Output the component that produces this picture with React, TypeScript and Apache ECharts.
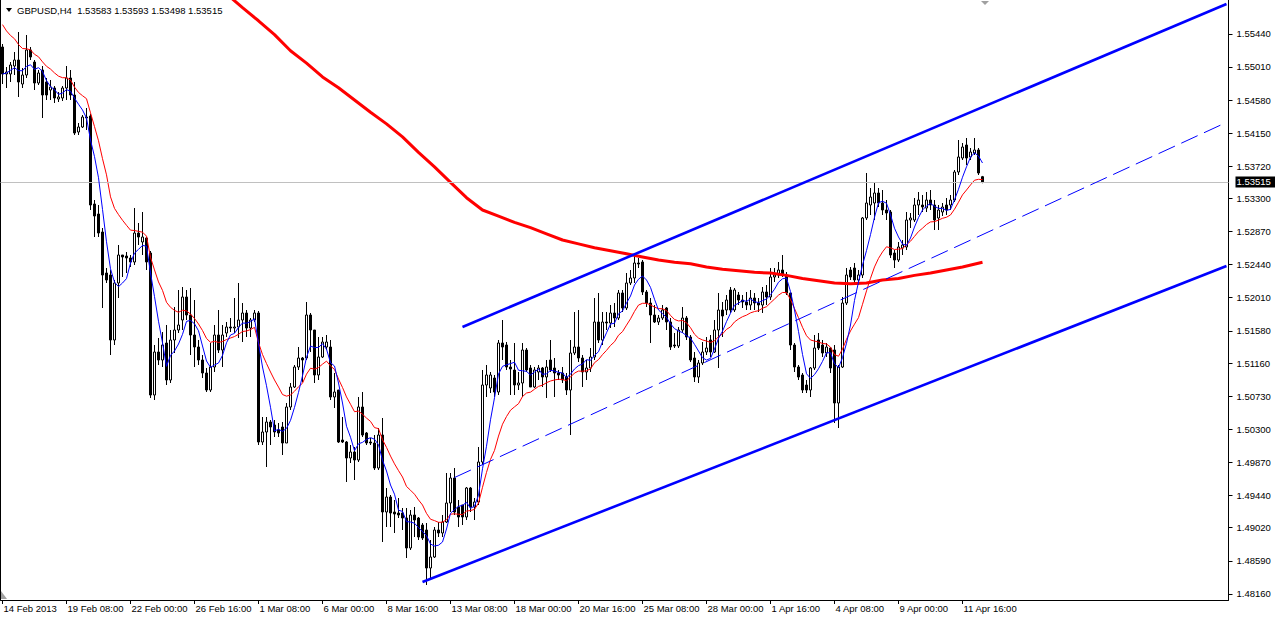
import React, { useEffect, useRef } from 'react';
import * as echarts from 'echarts';

const FONT = '"Liberation Sans", Arial, sans-serif';

const symbolName = 'GBPUSD';
const timeframe = 'H4';

// time-axis labels, one every 16 bars (from bar 0)
const timeLabels = [
  '14 Feb 2013', '19 Feb 08:00', '22 Feb 00:00', '26 Feb 16:00', '1 Mar 08:00', '6 Mar 00:00',
  '8 Mar 16:00', '13 Mar 08:00', '18 Mar 00:00', '20 Mar 16:00', '25 Mar 08:00', '28 Mar 00:00',
  '1 Apr 16:00', '4 Apr 08:00', '9 Apr 00:00', '11 Apr 16:00',
];
const labelStep = 16;
const slotCount = 307;

// price-axis labels
const priceTicks = [
  1.4816, 1.4859, 1.4902, 1.4944, 1.4987, 1.503, 1.5073, 1.5116, 1.5158,
  1.5201, 1.5244, 1.5287, 1.533, 1.5372, 1.5415, 1.5458, 1.5501, 1.5544,
];
const axisMin = 1.4808;
const axisMax = 1.5588;

const opens = [
  1.55269, 1.54918, 1.54918, 1.55022, 1.55100, 1.54788, 1.54905, 1.55230, 1.55074, 1.54801,
  1.54970, 1.54814, 1.54710, 1.54736, 1.54593, 1.54606, 1.54736, 1.54866, 1.54645, 1.54164,
  1.54229, 1.54359, 1.54372, 1.53228, 1.53098, 1.52864, 1.52331, 1.52305, 1.51460, 1.52201,
  1.52565, 1.52552, 1.52526, 1.52474, 1.52851, 1.52734, 1.52786, 1.52591, 1.50745, 1.51304,
  1.51200, 1.51421, 1.50940, 1.51460, 1.51590, 1.51720, 1.52019, 1.51785, 1.51525, 1.51369,
  1.51200, 1.51031, 1.50810, 1.51109, 1.51525, 1.51330, 1.51551, 1.51629, 1.51616, 1.51629,
  1.51720, 1.51811, 1.51616, 1.51720, 1.51811, 1.50134, 1.50264, 1.50394, 1.50355, 1.50290,
  1.50329, 1.50121, 1.50589, 1.50849, 1.51109, 1.51226, 1.51226, 1.51785, 1.51590, 1.51005,
  1.51239, 1.51369, 1.51369, 1.50719, 1.50810, 1.50160, 1.50134, 1.49926, 1.50004, 1.49900,
  1.50589, 1.50251, 1.50134, 1.50121, 1.49796, 1.50225, 1.49224, 1.49419, 1.49224, 1.49211,
  1.49211, 1.49146, 1.48756, 1.49185, 1.49146, 1.49055, 1.48990, 1.48496, 1.48639, 1.48990,
  1.48951, 1.49094, 1.49341, 1.49666, 1.49289, 1.49315, 1.49159, 1.49536, 1.49289, 1.49354,
  1.49874, 1.50875, 1.50836, 1.50966, 1.50784, 1.51421, 1.51395, 1.51109, 1.51070, 1.50875,
  1.50901, 1.51330, 1.51096, 1.50849, 1.51044, 1.51096, 1.50979, 1.51200, 1.51096, 1.51031,
  1.51031, 1.50979, 1.50810, 1.51291, 1.51369, 1.51226, 1.51044, 1.51096, 1.51239, 1.51694,
  1.51460, 1.51694, 1.51681, 1.51811, 1.51746, 1.52071, 1.51876, 1.52201, 1.52266, 1.52461,
  1.52474, 1.52084, 1.51941, 1.51785, 1.51694, 1.51746, 1.51876, 1.51694, 1.51395, 1.51382,
  1.51590, 1.51746, 1.51499, 1.51226, 1.50979, 1.51161, 1.51304, 1.51460, 1.51304, 1.51590,
  1.51850, 1.51850, 1.52110, 1.51850, 1.52045, 1.51980, 1.51954, 1.51915, 1.52006, 1.51941,
  1.51915, 1.52084, 1.52019, 1.52279, 1.52305, 1.52370, 1.52305, 1.52071, 1.51395, 1.51109,
  1.51005, 1.50875, 1.50810, 1.51096, 1.51460, 1.51395, 1.51291, 1.51356, 1.51330, 1.50641,
  1.51109, 1.51941, 1.52370, 1.52396, 1.52240, 1.52305, 1.53046, 1.53215, 1.53241, 1.53371,
  1.53241, 1.53150, 1.53124, 1.52591, 1.52500, 1.52656, 1.52669, 1.53020, 1.53020, 1.53215,
  1.53215, 1.53176, 1.53280, 1.53215, 1.53046, 1.53124, 1.53215, 1.53215, 1.53280, 1.53644,
  1.53826, 1.53995, 1.53839, 1.53891, 1.53930, 1.53583,
];

const closes = [
  1.54918, 1.54944, 1.55035, 1.55100, 1.54814, 1.54905, 1.55230, 1.55139, 1.54801, 1.54931,
  1.54645, 1.54645, 1.54749, 1.54606, 1.54619, 1.54736, 1.54866, 1.54645, 1.54151, 1.54229,
  1.54359, 1.54346, 1.53215, 1.53072, 1.52851, 1.52305, 1.52240, 1.51460, 1.52201, 1.52565,
  1.52539, 1.52526, 1.52474, 1.52851, 1.52799, 1.52799, 1.52474, 1.50745, 1.51304, 1.51200,
  1.51395, 1.50940, 1.51460, 1.51590, 1.51655, 1.52019, 1.51785, 1.51525, 1.51369, 1.51200,
  1.51031, 1.50810, 1.51109, 1.51525, 1.51330, 1.51525, 1.51629, 1.51616, 1.51629, 1.51720,
  1.51811, 1.51616, 1.51720, 1.51811, 1.50134, 1.50264, 1.50394, 1.50329, 1.50264, 1.50251,
  1.50121, 1.50589, 1.50849, 1.51109, 1.51226, 1.51200, 1.51785, 1.51590, 1.51005, 1.51239,
  1.51434, 1.51434, 1.50719, 1.50784, 1.50134, 1.50134, 1.49926, 1.50004, 1.49900, 1.50589,
  1.50225, 1.50121, 1.50121, 1.49796, 1.50225, 1.49224, 1.49419, 1.49211, 1.49198, 1.49185,
  1.49146, 1.48756, 1.49185, 1.49120, 1.48899, 1.48886, 1.48496, 1.48639, 1.48990, 1.48951,
  1.49094, 1.49341, 1.49666, 1.49224, 1.49159, 1.49159, 1.49536, 1.49289, 1.49354, 1.49874,
  1.50875, 1.51005, 1.51005, 1.50784, 1.51421, 1.51369, 1.51109, 1.51083, 1.50875, 1.50901,
  1.51330, 1.51070, 1.50849, 1.51070, 1.51096, 1.50979, 1.51109, 1.51070, 1.51031, 1.51005,
  1.50940, 1.50810, 1.51291, 1.51369, 1.51226, 1.51044, 1.51096, 1.51239, 1.51694, 1.51460,
  1.51694, 1.51681, 1.51811, 1.51746, 1.52071, 1.51876, 1.52201, 1.52266, 1.52461, 1.52448,
  1.52084, 1.51941, 1.51785, 1.51694, 1.51746, 1.51850, 1.51694, 1.51369, 1.51382, 1.51590,
  1.51746, 1.51499, 1.51200, 1.50979, 1.51161, 1.51304, 1.51356, 1.51304, 1.51590, 1.51850,
  1.51772, 1.51980, 1.51850, 1.52110, 1.51980, 1.51954, 1.51915, 1.52006, 1.51941, 1.51915,
  1.52084, 1.52019, 1.52279, 1.52305, 1.52370, 1.52305, 1.52071, 1.51395, 1.51109, 1.50979,
  1.50810, 1.50810, 1.51096, 1.51356, 1.51356, 1.51291, 1.51369, 1.51096, 1.50641, 1.51109,
  1.51941, 1.52305, 1.52279, 1.52240, 1.52305, 1.53046, 1.53241, 1.53319, 1.53371, 1.53241,
  1.53150, 1.53111, 1.52565, 1.52500, 1.52669, 1.52695, 1.53020, 1.53046, 1.53215, 1.53280,
  1.53189, 1.53280, 1.53215, 1.53020, 1.53150, 1.53189, 1.53150, 1.53280, 1.53644, 1.53839,
  1.53969, 1.53826, 1.53904, 1.53930, 1.53631, 1.53515,
];

const highs = [
  1.55308, 1.55009, 1.55074, 1.55204, 1.55464, 1.54996, 1.55425, 1.55269, 1.55100, 1.54970,
  1.55022, 1.54866, 1.54840, 1.54762, 1.54684, 1.54762, 1.55022, 1.54970, 1.54814, 1.54281,
  1.54385, 1.54476, 1.54398, 1.53280, 1.53215, 1.52916, 1.52396, 1.52370, 1.52240, 1.52695,
  1.52565, 1.52604, 1.52565, 1.53176, 1.52981, 1.53124, 1.52799, 1.52617, 1.51395, 1.51486,
  1.51564, 1.51655, 1.51590, 1.51889, 1.52110, 1.52149, 1.52110, 1.52136, 1.51980, 1.51460,
  1.51265, 1.51096, 1.51421, 1.51655, 1.51850, 1.51655, 1.51694, 1.51746, 1.52006, 1.52201,
  1.51941, 1.51850, 1.51746, 1.51850, 1.51837, 1.50459, 1.50459, 1.50420, 1.50420, 1.50381,
  1.50394, 1.50641, 1.50901, 1.51135, 1.51369, 1.51239, 1.51954, 1.51811, 1.51590, 1.51499,
  1.51499, 1.51525, 1.51460, 1.51031, 1.50810, 1.50459, 1.50147, 1.50095, 1.50069, 1.50719,
  1.50784, 1.50264, 1.50186, 1.50225, 1.50316, 1.50446, 1.49536, 1.49445, 1.49380, 1.49406,
  1.49276, 1.49276, 1.49250, 1.49289, 1.49159, 1.49081, 1.49081, 1.48860, 1.49029, 1.49094,
  1.49185, 1.49731, 1.49731, 1.49796, 1.49380, 1.49315, 1.49549, 1.49549, 1.49406, 1.50069,
  1.51070, 1.51135, 1.51044, 1.51005, 1.51460, 1.51720, 1.51434, 1.51200, 1.51421, 1.51044,
  1.51421, 1.51356, 1.51135, 1.51109, 1.51135, 1.51109, 1.51200, 1.51460, 1.51226, 1.51070,
  1.51109, 1.51031, 1.51460, 1.51824, 1.51850, 1.51265, 1.51200, 1.51356, 1.52006, 1.52071,
  1.51824, 1.51824, 1.51915, 1.51941, 1.52110, 1.52110, 1.52331, 1.52370, 1.52565, 1.52526,
  1.52500, 1.52110, 1.52006, 1.51915, 1.51785, 1.51915, 1.51889, 1.51746, 1.51551, 1.51629,
  1.51889, 1.51772, 1.51525, 1.51304, 1.51200, 1.51434, 1.51499, 1.51525, 1.51720, 1.52071,
  1.51954, 1.52045, 1.52149, 1.52136, 1.52084, 1.52045, 1.52084, 1.52110, 1.52071, 1.52006,
  1.52149, 1.52175, 1.52396, 1.52396, 1.52474, 1.52565, 1.52344, 1.52071, 1.51421, 1.51135,
  1.51031, 1.50940, 1.51109, 1.51525, 1.51551, 1.51460, 1.51421, 1.51369, 1.51395, 1.51135,
  1.52019, 1.52396, 1.52409, 1.52461, 1.52370, 1.53059, 1.53631, 1.53436, 1.53501, 1.53436,
  1.53410, 1.53280, 1.53150, 1.52630, 1.52734, 1.52760, 1.53124, 1.53111, 1.53306, 1.53384,
  1.53345, 1.53384, 1.53410, 1.53280, 1.53215, 1.53241, 1.53306, 1.53345, 1.53670, 1.54060,
  1.54021, 1.54086, 1.53956, 1.54086, 1.53956, 1.53593,
];

const lows = [
  1.54788, 1.54736, 1.54814, 1.54905, 1.54619, 1.54736, 1.54866, 1.55100, 1.54710, 1.54775,
  1.54346, 1.54580, 1.54580, 1.54541, 1.54554, 1.54567, 1.54580, 1.54580, 1.54125, 1.54125,
  1.54216, 1.54190, 1.53150, 1.52799, 1.52799, 1.51876, 1.52201, 1.51265, 1.51395, 1.52006,
  1.52279, 1.52331, 1.52409, 1.52435, 1.52695, 1.52565, 1.52370, 1.50706, 1.50680, 1.51135,
  1.51109, 1.50875, 1.50901, 1.51291, 1.51551, 1.51590, 1.51720, 1.51265, 1.51109, 1.51135,
  1.50966, 1.50784, 1.50784, 1.51044, 1.51291, 1.51109, 1.51499, 1.51564, 1.51551, 1.51486,
  1.51434, 1.51499, 1.51499, 1.51694, 1.50095, 1.50095, 1.49809, 1.50095, 1.50199, 1.50199,
  1.49965, 1.50121, 1.50550, 1.50836, 1.51070, 1.50914, 1.51200, 1.51304, 1.50901, 1.50940,
  1.51226, 1.51330, 1.50680, 1.50576, 1.50121, 1.50121, 1.49614, 1.49861, 1.49640, 1.49874,
  1.50199, 1.50095, 1.50095, 1.49770, 1.49770, 1.48834, 1.49029, 1.49029, 1.48951, 1.49146,
  1.48990, 1.48626, 1.48730, 1.48899, 1.48860, 1.48860, 1.48275, 1.48366, 1.48626, 1.48899,
  1.48899, 1.49081, 1.49224, 1.49185, 1.49029, 1.49055, 1.49120, 1.49224, 1.49120, 1.49315,
  1.49835, 1.50719, 1.50771, 1.50719, 1.50745, 1.51200, 1.51070, 1.50745, 1.50745, 1.50810,
  1.50719, 1.51044, 1.50849, 1.50836, 1.50940, 1.50849, 1.50706, 1.51044, 1.50719, 1.50940,
  1.50901, 1.50745, 1.50225, 1.51265, 1.51174, 1.50849, 1.50940, 1.51044, 1.51200, 1.51421,
  1.51395, 1.51590, 1.51616, 1.51629, 1.51720, 1.51824, 1.51850, 1.52175, 1.52201, 1.52396,
  1.52045, 1.51889, 1.51421, 1.51681, 1.51655, 1.51720, 1.51590, 1.51330, 1.51356, 1.51356,
  1.51551, 1.51460, 1.51174, 1.50914, 1.50901, 1.51135, 1.51265, 1.51239, 1.51291, 1.51096,
  1.51499, 1.51785, 1.51811, 1.51824, 1.51915, 1.51876, 1.51850, 1.51850, 1.51850, 1.51824,
  1.51811, 1.51915, 1.51980, 1.52214, 1.52266, 1.52279, 1.52045, 1.51330, 1.51044, 1.50940,
  1.50771, 1.50771, 1.50719, 1.51070, 1.51330, 1.51239, 1.51239, 1.51031, 1.50381, 1.50316,
  1.51096, 1.51915, 1.52240, 1.52201, 1.52175, 1.52266, 1.53020, 1.53085, 1.53020, 1.53189,
  1.53085, 1.53020, 1.52526, 1.52396, 1.52474, 1.52565, 1.52630, 1.52916, 1.52994, 1.53085,
  1.53124, 1.53124, 1.53150, 1.52890, 1.52890, 1.53072, 1.53085, 1.53150, 1.53254, 1.53605,
  1.53800, 1.53735, 1.53800, 1.53865, 1.53605, 1.53498,
];

// slow (200) moving average: [bar index, price]
const ma200Points = [
  [56, 1.5596], [60, 1.5578], [64, 1.5561], [68, 1.5543], [72, 1.5522], [76, 1.5506],
  [80, 1.5488], [84, 1.5474], [88, 1.5458], [92, 1.5442], [96, 1.5427], [100, 1.541],
  [104, 1.539], [108, 1.5371], [112, 1.5351], [116, 1.5331], [120, 1.5315], [124, 1.5307],
  [128, 1.5299], [132, 1.5292], [136, 1.5284], [140, 1.5276], [144, 1.5271], [148, 1.5266],
  [152, 1.5262], [156, 1.5258], [160, 1.5254], [164, 1.525], [168, 1.5247], [172, 1.5245],
  [176, 1.5241], [180, 1.5238], [184, 1.5236], [188, 1.5234], [192, 1.5233], [196, 1.523],
  [200, 1.5226], [204, 1.5223], [208, 1.522], [212, 1.5219], [216, 1.522], [220, 1.5224],
  [224, 1.5226], [228, 1.523], [232, 1.5233], [236, 1.5237], [240, 1.5241], [245, 1.5247],
];

// trend lines: [bar index, price]
const upperChannel = [[115, 1.51629], [306, 1.55828]];
const lowerChannel = [[105, 1.48314], [306, 1.52422]];
const midChannel = [[113, 1.49672], [306, 1.54289]];

const fastPeriod = 5;
const slowPeriod = 14;
const slowSeed = 1.55659;
const currentPrice = 1.53515;

function sma(values: number[], n: number) {
  return values.map((_, i) => {
    const s = Math.max(0, i - n + 1);
    let sum = 0;
    for (let k = s; k <= i; k++) sum += values[k];
    return +(sum / (i - s + 1)).toFixed(5);
  });
}

function ema(values: number[], n: number, seed: number) {
  const k = 2 / (n + 1);
  let e = seed;
  return values.map((v) => {
    e = e + k * (v - e);
    return +e.toFixed(5);
  });
}

export default function App() {
  const ref = useRef<HTMLDivElement>(null);

  useEffect(() => {
    if (!ref.current) return;
    const chart = echarts.init(ref.current, null, { renderer: 'svg' });

    const categories = Array.from({ length: slotCount }, (_, i) => String(i));
    const isLabelIdx = (idx: number) =>
      idx % labelStep === 0 && idx / labelStep < timeLabels.length;

    const candleData = opens.map((o, i) => [o, closes[i], lows[i], highs[i]]);
    const fast = sma(closes, fastPeriod);
    const slow = ema(closes, slowPeriod, slowSeed);

    const last = opens.length - 1;
    const header = `${symbolName},${timeframe}  ${opens[last].toFixed(5)} ${highs[last].toFixed(5)} ${lows[last].toFixed(5)} ${closes[last].toFixed(5)}`;

    const option: any = {
      animation: false,
      backgroundColor: '#ffffff',
      grid: { left: 0.5, right: 46.5, top: 0, bottom: 17, containLabel: false, outerBoundsMode: 'none' },
      xAxis: {
        type: 'category',
        data: categories,
        boundaryGap: true,
        axisLine: { show: true, onZero: false, lineStyle: { color: '#000', width: 1 } },
        axisTick: {
          show: true,
          alignWithLabel: true,
          interval: (idx: number) => isLabelIdx(idx),
          length: 4,
          lineStyle: { color: '#000', width: 1 },
        },
        axisLabel: {
          interval: (idx: number) => isLabelIdx(idx),
          formatter: (_v: string, idx: number) => (isLabelIdx(idx) ? timeLabels[idx / labelStep] : ''),
          align: 'left',
          margin: 3,
          padding: [0, 0, 0, 1],
          color: '#000',
          fontSize: 9.5,
          fontFamily: FONT,
        },
        splitLine: { show: false },
      },
      yAxis: {
        type: 'value',
        position: 'right',
        min: axisMin,
        max: axisMax,
        splitLine: { show: false },
        axisLine: { show: true, lineStyle: { color: '#000', width: 1 } },
        axisTick: { show: true, length: 4, customValues: priceTicks, lineStyle: { color: '#000' } },
        axisLabel: {
          customValues: priceTicks,
          formatter: (v: number) => v.toFixed(5),
          margin: 8,
          color: '#000',
          fontSize: 9.5,
          fontFamily: FONT,
        },
      },
      series: [
        {
          type: 'line',
          name: 'price line',
          data: [],
          symbol: 'none',
          silent: true,
          z: 1,
          markLine: {
            silent: true,
            precision: 5,
            symbol: ['none', 'none'],
            lineStyle: { color: '#c0c0c0', width: 1, type: 'solid' },
            label: {
              show: true,
              position: 'end',
              distance: 7,
              formatter: () => currentPrice.toFixed(5),
              color: '#ffffff',
              backgroundColor: '#000000',
              padding: [1, 5, 0, 1],
              fontSize: 9.5,
              fontFamily: FONT,
            },
            data: [{ yAxis: currentPrice }],
          },
        },
        {
          type: 'candlestick',
          name: symbolName,
          data: candleData,
          barWidth: 2,
          z: 2,
          silent: true,
          itemStyle: {
            color: '#ffffff',
            color0: '#000000',
            borderColor: '#000000',
            borderColor0: '#000000',
            borderColorDoji: '#000000',
            borderWidth: 1,
          },
        },
        {
          type: 'line', name: 'MA200', data: ma200Points, symbol: 'none', silent: true, z: 3,
          lineStyle: { color: '#ff0000', width: 3 },
        },
        {
          type: 'line', name: 'EMA14', data: slow, symbol: 'none', silent: true, z: 4,
          lineStyle: { color: '#ff0000', width: 1 },
        },
        {
          type: 'line', name: 'MA5', data: fast, symbol: 'none', silent: true, z: 5,
          lineStyle: { color: '#0000ff', width: 1 },
        },
        {
          type: 'line', name: 'upper', data: upperChannel, symbol: 'none', silent: true, z: 6,
          lineStyle: { color: '#0000ff', width: 2.6 },
        },
        {
          type: 'line', name: 'lower', data: lowerChannel, symbol: 'none', silent: true, z: 6,
          lineStyle: { color: '#0000ff', width: 2.6 },
        },
        {
          type: 'line', name: 'mid', data: midChannel, symbol: 'none', silent: true, z: 6,
          lineStyle: { color: '#0000ff', width: 1, type: [18, 7] },
        },
      ],
      graphic: [
        { type: 'line', shape: { x1: 0.5, y1: 0, x2: 0.5, y2: 600 }, style: { stroke: '#000', lineWidth: 1 }, silent: true },
        { type: 'polygon', shape: { points: [[6, 8], [12, 8], [9, 12]] }, style: { fill: '#000' }, silent: true },
        {
          type: 'text', x: 17, y: 10, silent: true,
          style: { text: header, fill: '#000', font: `9.5px ${FONT}`, verticalAlign: 'middle', textVerticalAlign: 'middle' },
        },
        { type: 'polygon', shape: { points: [[981, 1], [989, 1], [985, 5]] }, style: { fill: '#a0a0a0' }, silent: true },
        { type: 'polygon', shape: { points: [[1, 591], [1, 599], [7, 599]] }, style: { fill: '#a0a0a0' }, silent: true },
      ],
    };

    chart.setOption(option);
    return () => chart.dispose();
  }, []);

  return (
    <div
      ref={ref}
      style={{ position: 'absolute', left: 0, top: 0, width: 1275, height: 617, background: '#fff' }}
    />
  );
}
